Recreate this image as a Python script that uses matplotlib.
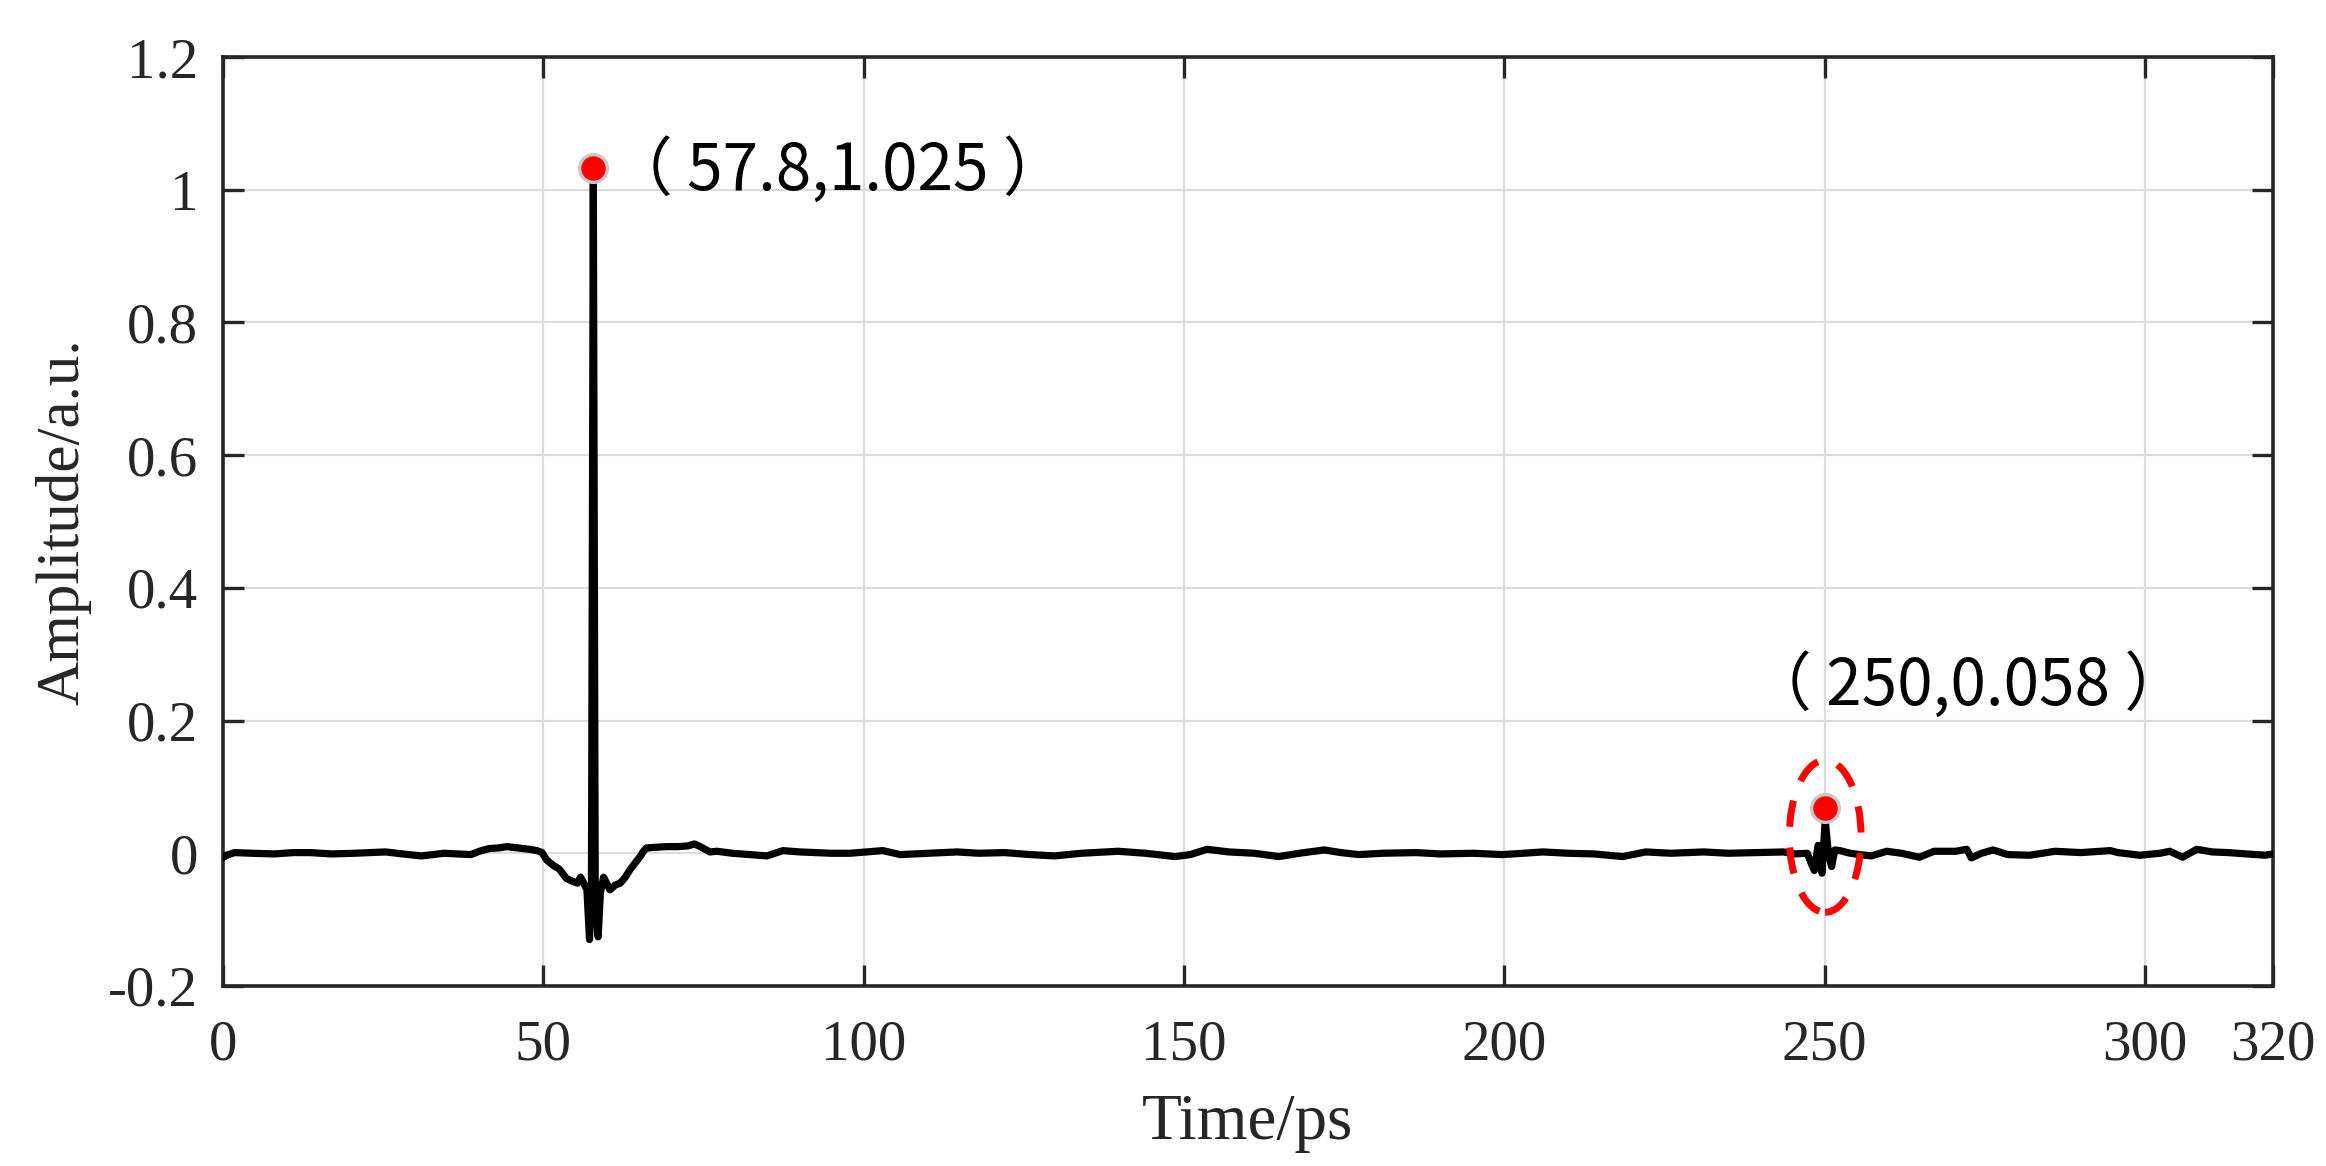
import matplotlib
matplotlib.use("Agg")
import matplotlib.pyplot as plt
from matplotlib.patches import Ellipse

# time axis (ps) and amplitude (a.u.)
time_ps = [
    0.0, 0.8, 1.8, 4.5, 8.0, 11.0, 13.5, 17.0, 20.5, 23.0, 25.4, 28.0, 31.0,
    34.5, 36.5, 38.7, 40.0, 41.5, 43.0, 44.3, 46.0, 47.8, 49.0, 49.8, 50.5,
    51.5, 52.5, 53.6, 54.5, 55.3, 55.8, 56.3, 56.8, 57.2, 57.5, 57.8, 58.1,
    58.55, 58.9, 59.4, 60.4, 61.2, 62.0, 62.8, 63.5, 64.3, 65.1, 65.7, 66.1,
    67.5, 69.3, 71.0, 72.5, 73.6, 74.5, 76.0, 77.1, 79.5, 82.3, 84.9, 87.4,
    90.0, 92.7, 95.0, 97.9, 100.5, 103.0, 105.7, 110.0, 114.6, 118.0, 122.0,
    126.0, 129.8, 134.0, 139.7, 144.0, 148.6, 151.0, 153.6, 157.0, 161.0,
    164.8, 168.0, 171.9, 174.5, 177.3, 181.0, 186.3, 190.0, 195.2, 199.7,
    203.0, 206.0, 210.0, 214.0, 218.5, 222.1, 226.0, 231.1, 235.0, 239.0,
    243.6, 245.4, 247.3, 247.9, 248.4, 249.0, 249.6, 250.1, 250.6, 251.1,
    251.6, 252.4, 254.0, 255.5, 257.3, 259.7, 262.0, 264.8, 267.1, 270.5,
    272.2, 272.9, 274.5, 276.3, 278.6, 282.0, 286.0, 290.0, 294.6, 295.8,
    299.2, 302.4, 303.9, 305.9, 308.1, 310.5, 313.0, 316.0, 318.8, 320.0,
]
amplitude = [
    -0.006, -0.002, 0.001, 0.000, -0.001, 0.001, 0.001, -0.001, 0.000, 0.001,
    0.002, -0.001, -0.004, 0.000, -0.001, -0.002, 0.003, 0.007, 0.008, 0.010,
    0.008, 0.006, 0.004, 0.001, -0.010, -0.018, -0.024, -0.038, -0.042, -0.045,
    -0.036, -0.045, -0.055, -0.130, -0.070, 1.012, -0.070, -0.126, -0.060,
    -0.036, -0.055, -0.048, -0.045, -0.036, -0.025, -0.015, -0.005, 0.004,
    0.008, 0.009, 0.010, 0.010, 0.011, 0.014, 0.010, 0.002, 0.003, 0.000,
    -0.002, -0.004, 0.004, 0.002, 0.001, 0.000, 0.000, 0.002, 0.004, -0.002,
    0.000, 0.002, 0.000, 0.001, -0.002, -0.004, 0.000, 0.003, 0.000, -0.005,
    -0.002, 0.006, 0.002, 0.000, -0.005, 0.000, 0.005, 0.001, -0.002, 0.000,
    0.001, -0.001, 0.000, -0.002, 0.000, 0.002, 0.000, -0.001, -0.005, 0.002,
    0.000, 0.002, 0.000, 0.001, 0.002, -0.001, 0.000, -0.015, -0.026, 0.012,
    -0.030, 0.050, 0.000, -0.020, 0.005, 0.004, 0.000, -0.002, -0.004, 0.003,
    0.000, -0.006, 0.003, 0.003, 0.006, -0.007, 0.000, 0.005, -0.002, -0.003,
    0.003, 0.001, 0.004, 0.001, -0.003, 0.000, 0.003, -0.006, 0.006, 0.002,
    0.001, -0.001, -0.003, -0.001,
]

# marked peaks: (where the dot is drawn, label text)
peak_t = [57.8, 250.0]
peak_dot = [1.032, 0.068]
peak_labels = ["（ 57.8,1.025 ）", "（ 250,0.058 ）"]
label_pos = [(60.2, 1.0), (238.0, 0.224)]

x_ticks = [0, 50, 100, 150, 200, 250, 300, 320]
y_ticks = [-0.2, 0, 0.2, 0.4, 0.6, 0.8, 1.0, 1.2]
y_tick_labels = ["-0.2", "0", "0.2", "0.4", "0.6", "0.8", "1", "1.2"]

serif = ["Liberation Serif", "DejaVu Serif"]
spine_col = "#262626"

fig = plt.figure(figsize=(23.26, 11.66), dpi=100)
ax = fig.add_axes([0.0959, 0.1544, 0.9772 - 0.0959, 0.9511 - 0.1544])

ax.plot(time_ps, amplitude, color="black", lw=5.2, zorder=3)
ax.plot(peak_t, peak_dot, "o", ms=20, mfc="#ff0000", mec="#c8c8c8", mew=2.4,
        zorder=5)

for txt, (tx, ty) in zip(peak_labels, label_pos):
    ax.text(tx, ty, txt, fontsize=46, ha="left", va="baseline",
            family=["Noto Sans CJK SC", "DejaVu Sans"], zorder=6)

ring = Ellipse((250.1, 0.0256), 11.2, 0.229, fill=False, ec="#ff0000",
               lw=5, ls=(0, (3.8, 3.0)), zorder=4)
ax.add_patch(ring)

ax.set_xlim(0, 320)
ax.set_ylim(-0.2, 1.2)
ax.set_xticks(x_ticks)
ax.set_xticklabels([str(v) for v in x_ticks])
ax.set_yticks(y_ticks)
ax.set_yticklabels(y_tick_labels)

ax.grid(True, color="#dcdcdc", lw=1.6)
ax.set_axisbelow(True)
ax.tick_params(direction="in", length=15, width=2.4, color=spine_col,
               top=True, right=True, labelsize=41, labelcolor="#262626")
ax.tick_params(axis="x", pad=24)
ax.tick_params(axis="y", pad=18)
for lab in ax.get_xticklabels() + ax.get_yticklabels():
    lab.set_family(serif)
for s in ax.spines.values():
    s.set_linewidth(2.6)
    s.set_color(spine_col)

ax.set_xlabel("Time/ps", fontsize=47, family=serif, color="#262626",
              labelpad=16)
ax.set_ylabel("Amplitude/a.u.", fontsize=44, family=serif, color="#262626",
              labelpad=12)

fig.savefig("out.png", dpi=100)
